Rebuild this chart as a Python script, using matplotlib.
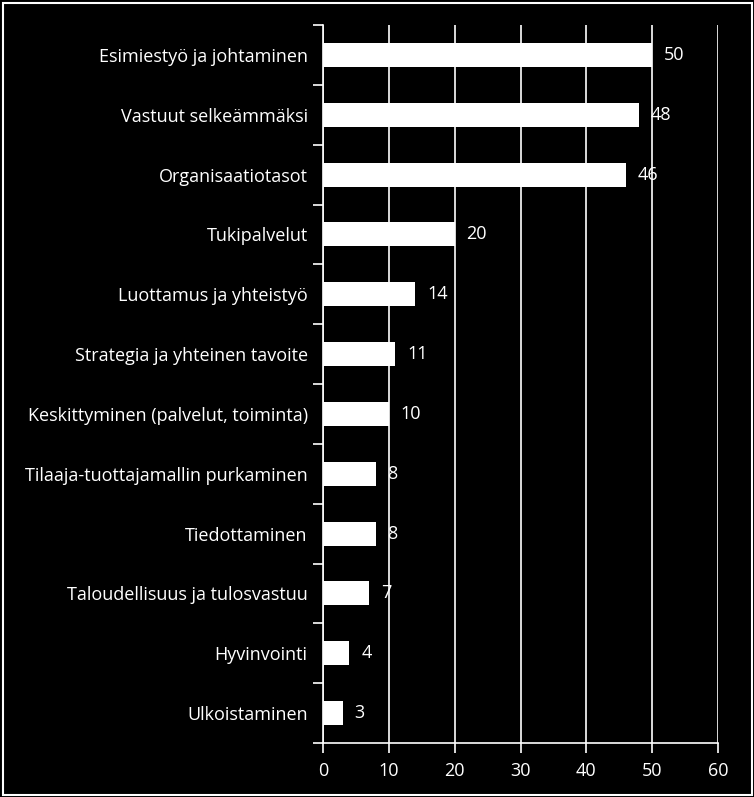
import matplotlib

matplotlib.use("Agg")
import matplotlib.pyplot as plt
from matplotlib.patches import Rectangle
import numpy as np

categories = [
    "Esimiestyö ja johtaminen",
    "Vastuut selkeämmäksi",
    "Organisaatiotasot",
    "Tukipalvelut",
    "Luottamus ja yhteistyö",
    "Strategia ja yhteinen tavoite",
    "Keskittyminen (palvelut, toiminta)",
    "Tilaaja-tuottajamallin purkaminen",
    "Tiedottaminen",
    "Taloudellisuus ja tulosvastuu",
    "Hyvinvointi",
    "Ulkoistaminen",
]
values = [50, 48, 46, 20, 14, 11, 10, 8, 8, 7, 4, 3]
xticks = [0, 10, 20, 30, 40, 50, 60]

W, H, DPI = 754, 797, 100
plt.rcParams["font.family"] = ["Open Sans", "DejaVu Sans"]
FS = 13

fig = plt.figure(figsize=(W / DPI, H / DPI), dpi=DPI, facecolor="black")
ax = fig.add_axes([323 / W, 1 - 743 / H, (718 - 323) / W, (743 - 25) / H])
ax.set_facecolor("black")

n = len(categories)
y = np.arange(n)
ax.barh(y, values, height=0.4, color="white", zorder=3)
for yi, v in zip(y, values):
    ax.text(v + 1.8, yi, str(v), color="white", fontsize=FS, va="center", ha="left", zorder=4)

ax.set_xlim(0, 60)
ax.set_ylim(n - 0.5, -0.5)
ax.set_xticks(xticks)
ax.xaxis.grid(True, color="white", linewidth=1.2, zorder=1)

# category boundaries get tick marks, labels sit at bar centres
ax.set_yticks(np.arange(n + 1) - 0.5)
ax.set_yticklabels([])
ax.set_yticks(y, minor=True)
ax.set_yticklabels(categories, minor=True)
ax.tick_params(axis="y", which="major", length=7, width=1.2, color="white", direction="out")
ax.tick_params(axis="y", which="minor", length=0, pad=11, labelcolor="white", labelsize=FS)
ax.tick_params(axis="x", length=7, width=1.2, color="white", pad=7, labelcolor="white", labelsize=FS)

for side in ("top", "right"):
    ax.spines[side].set_visible(False)
for side in ("left", "bottom"):
    ax.spines[side].set_color("white")
    ax.spines[side].set_linewidth(1.2)

# thin white frame around the whole chart
fig.patches.append(Rectangle((2.5 / W, 2.5 / H), 1 - 5 / W, 1 - 5 / H,
                             transform=fig.transFigure, fill=False,
                             edgecolor="white", linewidth=1.5))

fig.savefig("out.png", dpi=DPI, facecolor="black")
